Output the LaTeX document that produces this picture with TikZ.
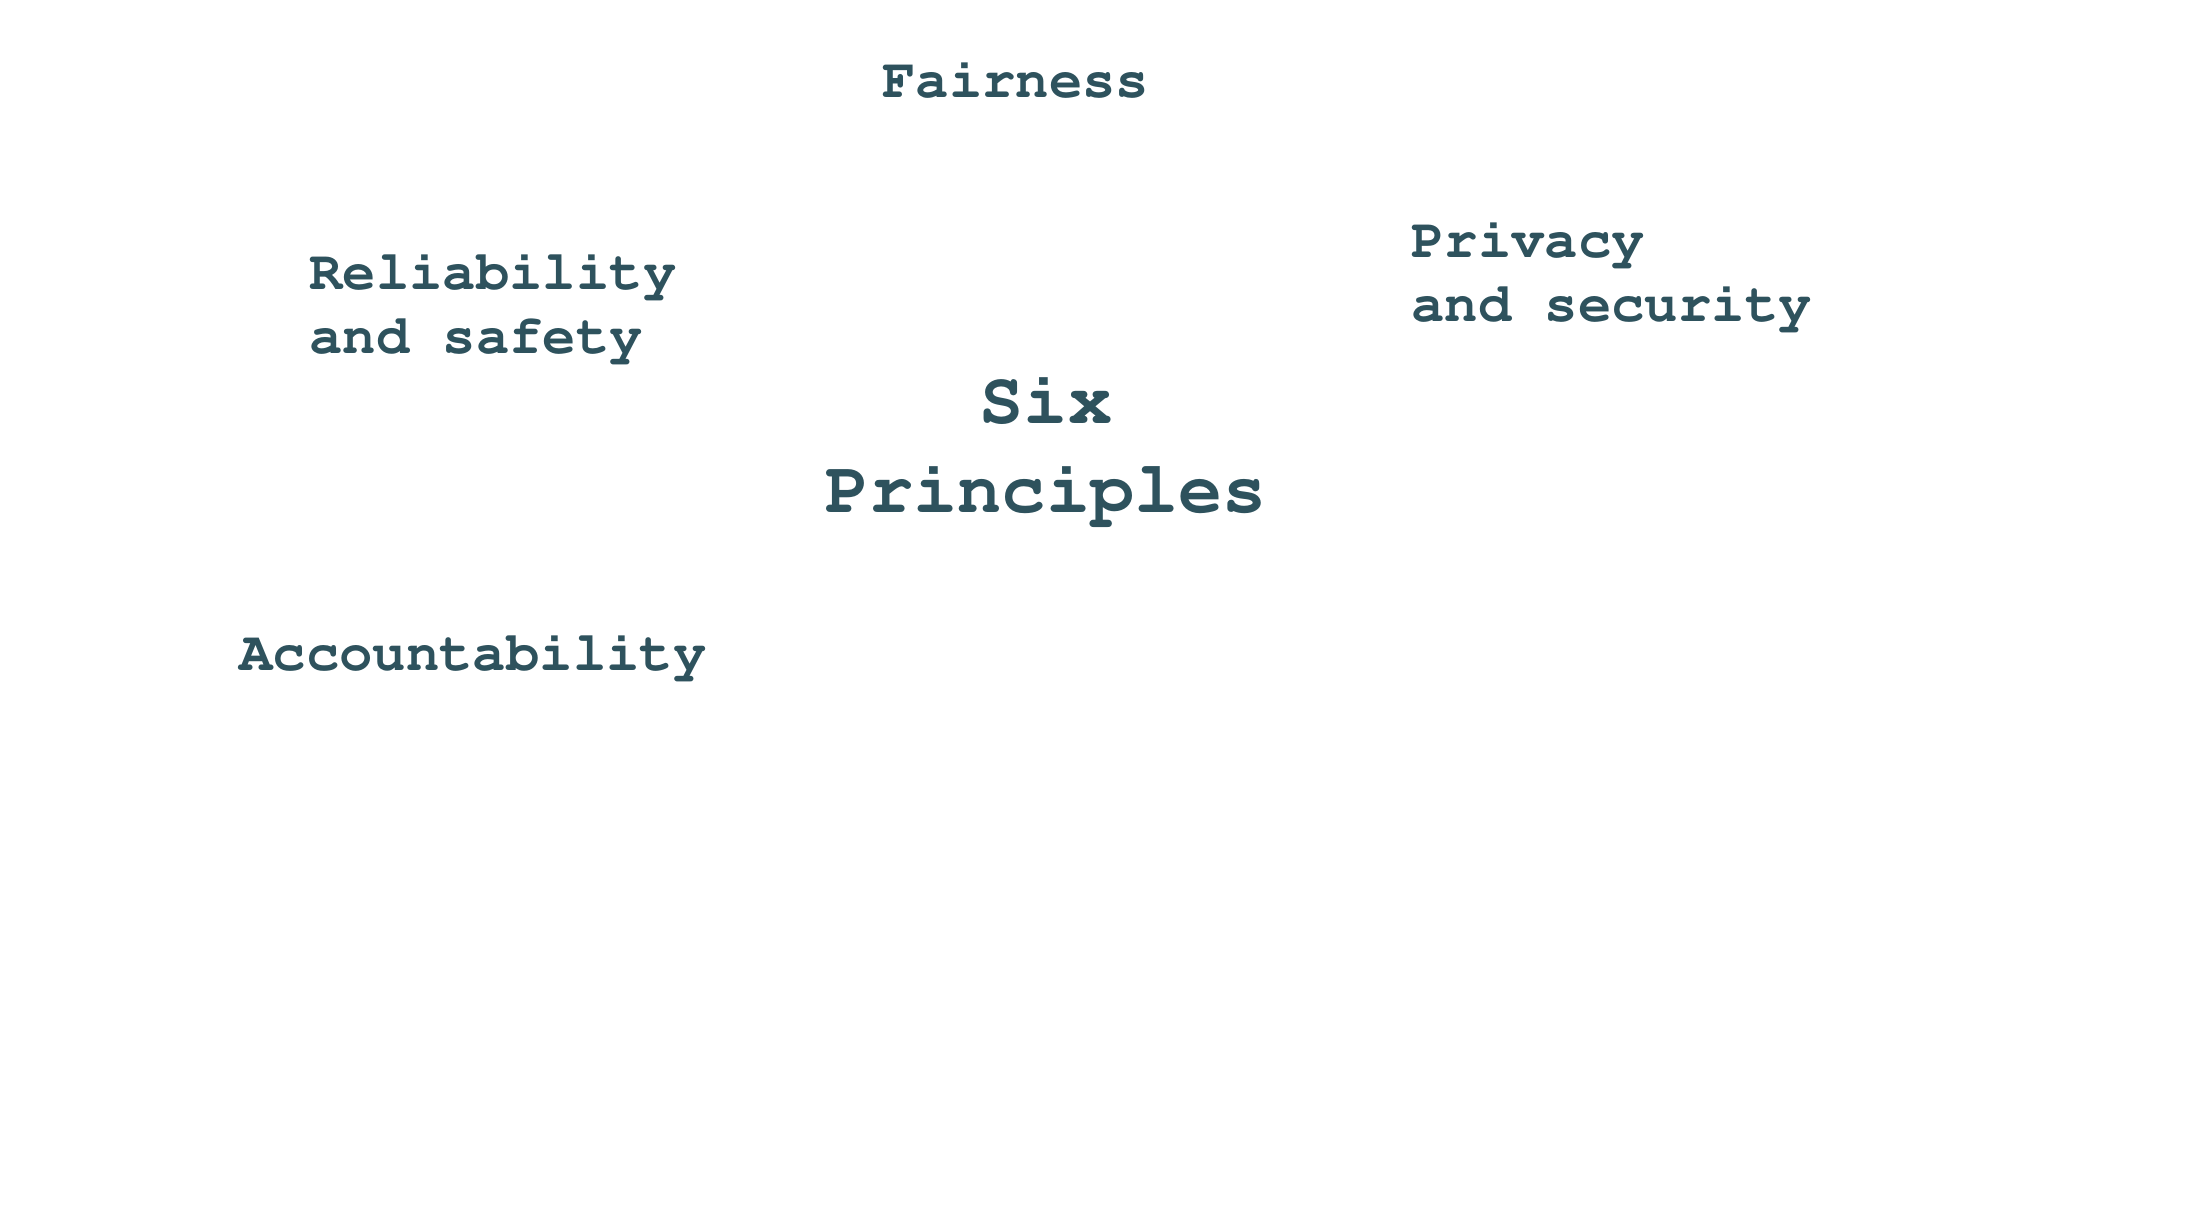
\documentclass[tikz,border=0pt]{standalone}
\usepackage[T1]{fontenc}
\usepackage{tikz}
\definecolor{slateteal}{HTML}{2E525D}
\tikzset{
    principle/.style={anchor=base west, inner sep=0pt, align=left,
        text=slateteal, font=\fontfamily{pcr}\bfseries\fontsize{27.8}{32}\selectfont},
    hub/.style={anchor=base, inner sep=0pt, align=center,
        text=slateteal, font=\fontfamily{pcr}\bfseries\fontsize{36.8}{44.5}\selectfont}
}

\begin{document}
\begin{tikzpicture}[x=0.5pt,y=-0.5pt]
        \useasboundingbox (0,0) rectangle (2202,1220);
        % anchors sit on the last line of each label
        \node[hub] (six) at (1046,512) {Six\\Principles};
        \node[principle] (fair) at (882,98) {Fairness};
        \node[principle] (relia) at (309,353) {Reliability\\and safety};
        \node[principle] (priv) at (1411,321) {Privacy\\and security};
        \node[principle] (acc) at (239,670) {Accountability};
    \end{tikzpicture}
\end{document}
